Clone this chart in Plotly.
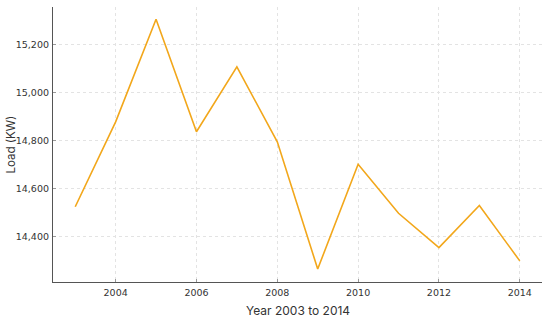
import plotly.graph_objects as go

years = [2003, 2004, 2005, 2006, 2007, 2008, 2009, 2010, 2011, 2012, 2013, 2014]
load_kw = [14524, 14877, 15304, 14836, 15106, 14794, 14265, 14701, 14497, 14354, 14529, 14299]
x_ticks = [2004, 2006, 2008, 2010, 2012, 2014]
y_ticks = [14400, 14600, 14800, 15000, 15200]

fig = go.Figure()
fig.add_trace(go.Scatter(x=years, y=load_kw, mode="lines",
                         line=dict(color="#f2a71b", width=1.6), showlegend=False))

fig.update_layout(
    width=550, height=320,
    margin=dict(l=53, r=8, t=7, b=38, autoexpand=False),
    paper_bgcolor="white", plot_bgcolor="white",
    font=dict(family="DejaVu Sans", size=9.5, color="#333"),
)
common = dict(showgrid=True, gridcolor="#e3e3e3", griddash="dot", gridwidth=1,
              showline=True, linecolor="#555", linewidth=1.2, zeroline=False,
              ticks="inside", ticklen=3, tickcolor="#999", tickwidth=1, automargin=False)
fig.update_xaxes(range=[2002.45, 2014.55], tickvals=x_ticks,
                 ticktext=[str(t) for t in x_ticks], ticklabelstandoff=1, **common)
fig.update_yaxes(range=[14211, 15355], tickvals=y_ticks,
                 ticktext=[f"{t:,}" for t in y_ticks], ticklabelstandoff=1, **common)

fig.add_annotation(text="Year 2003 to 2014", xref="paper", yref="paper",
                   x=0.5, y=0, yshift=-28, yanchor="middle", xanchor="center",
                   showarrow=False, font=dict(family="Inter", size=12, color="#333"))
fig.add_annotation(text="Load (KW)", xref="paper", yref="paper",
                   x=0, y=0.5, xshift=-43, textangle=-90, xanchor="center", yanchor="middle",
                   showarrow=False, font=dict(family="Inter", size=11.5, color="#333"))

fig.write_html("out.html", config={"displayModeBar": False})

with open("out.html", encoding="utf-8") as f:
    html = f.read()
html = html.replace("<head>", "<head><style>html,body{margin:0;padding:0;overflow:hidden;}</style>", 1)
with open("out.html", "w", encoding="utf-8") as f:
    f.write(html)
